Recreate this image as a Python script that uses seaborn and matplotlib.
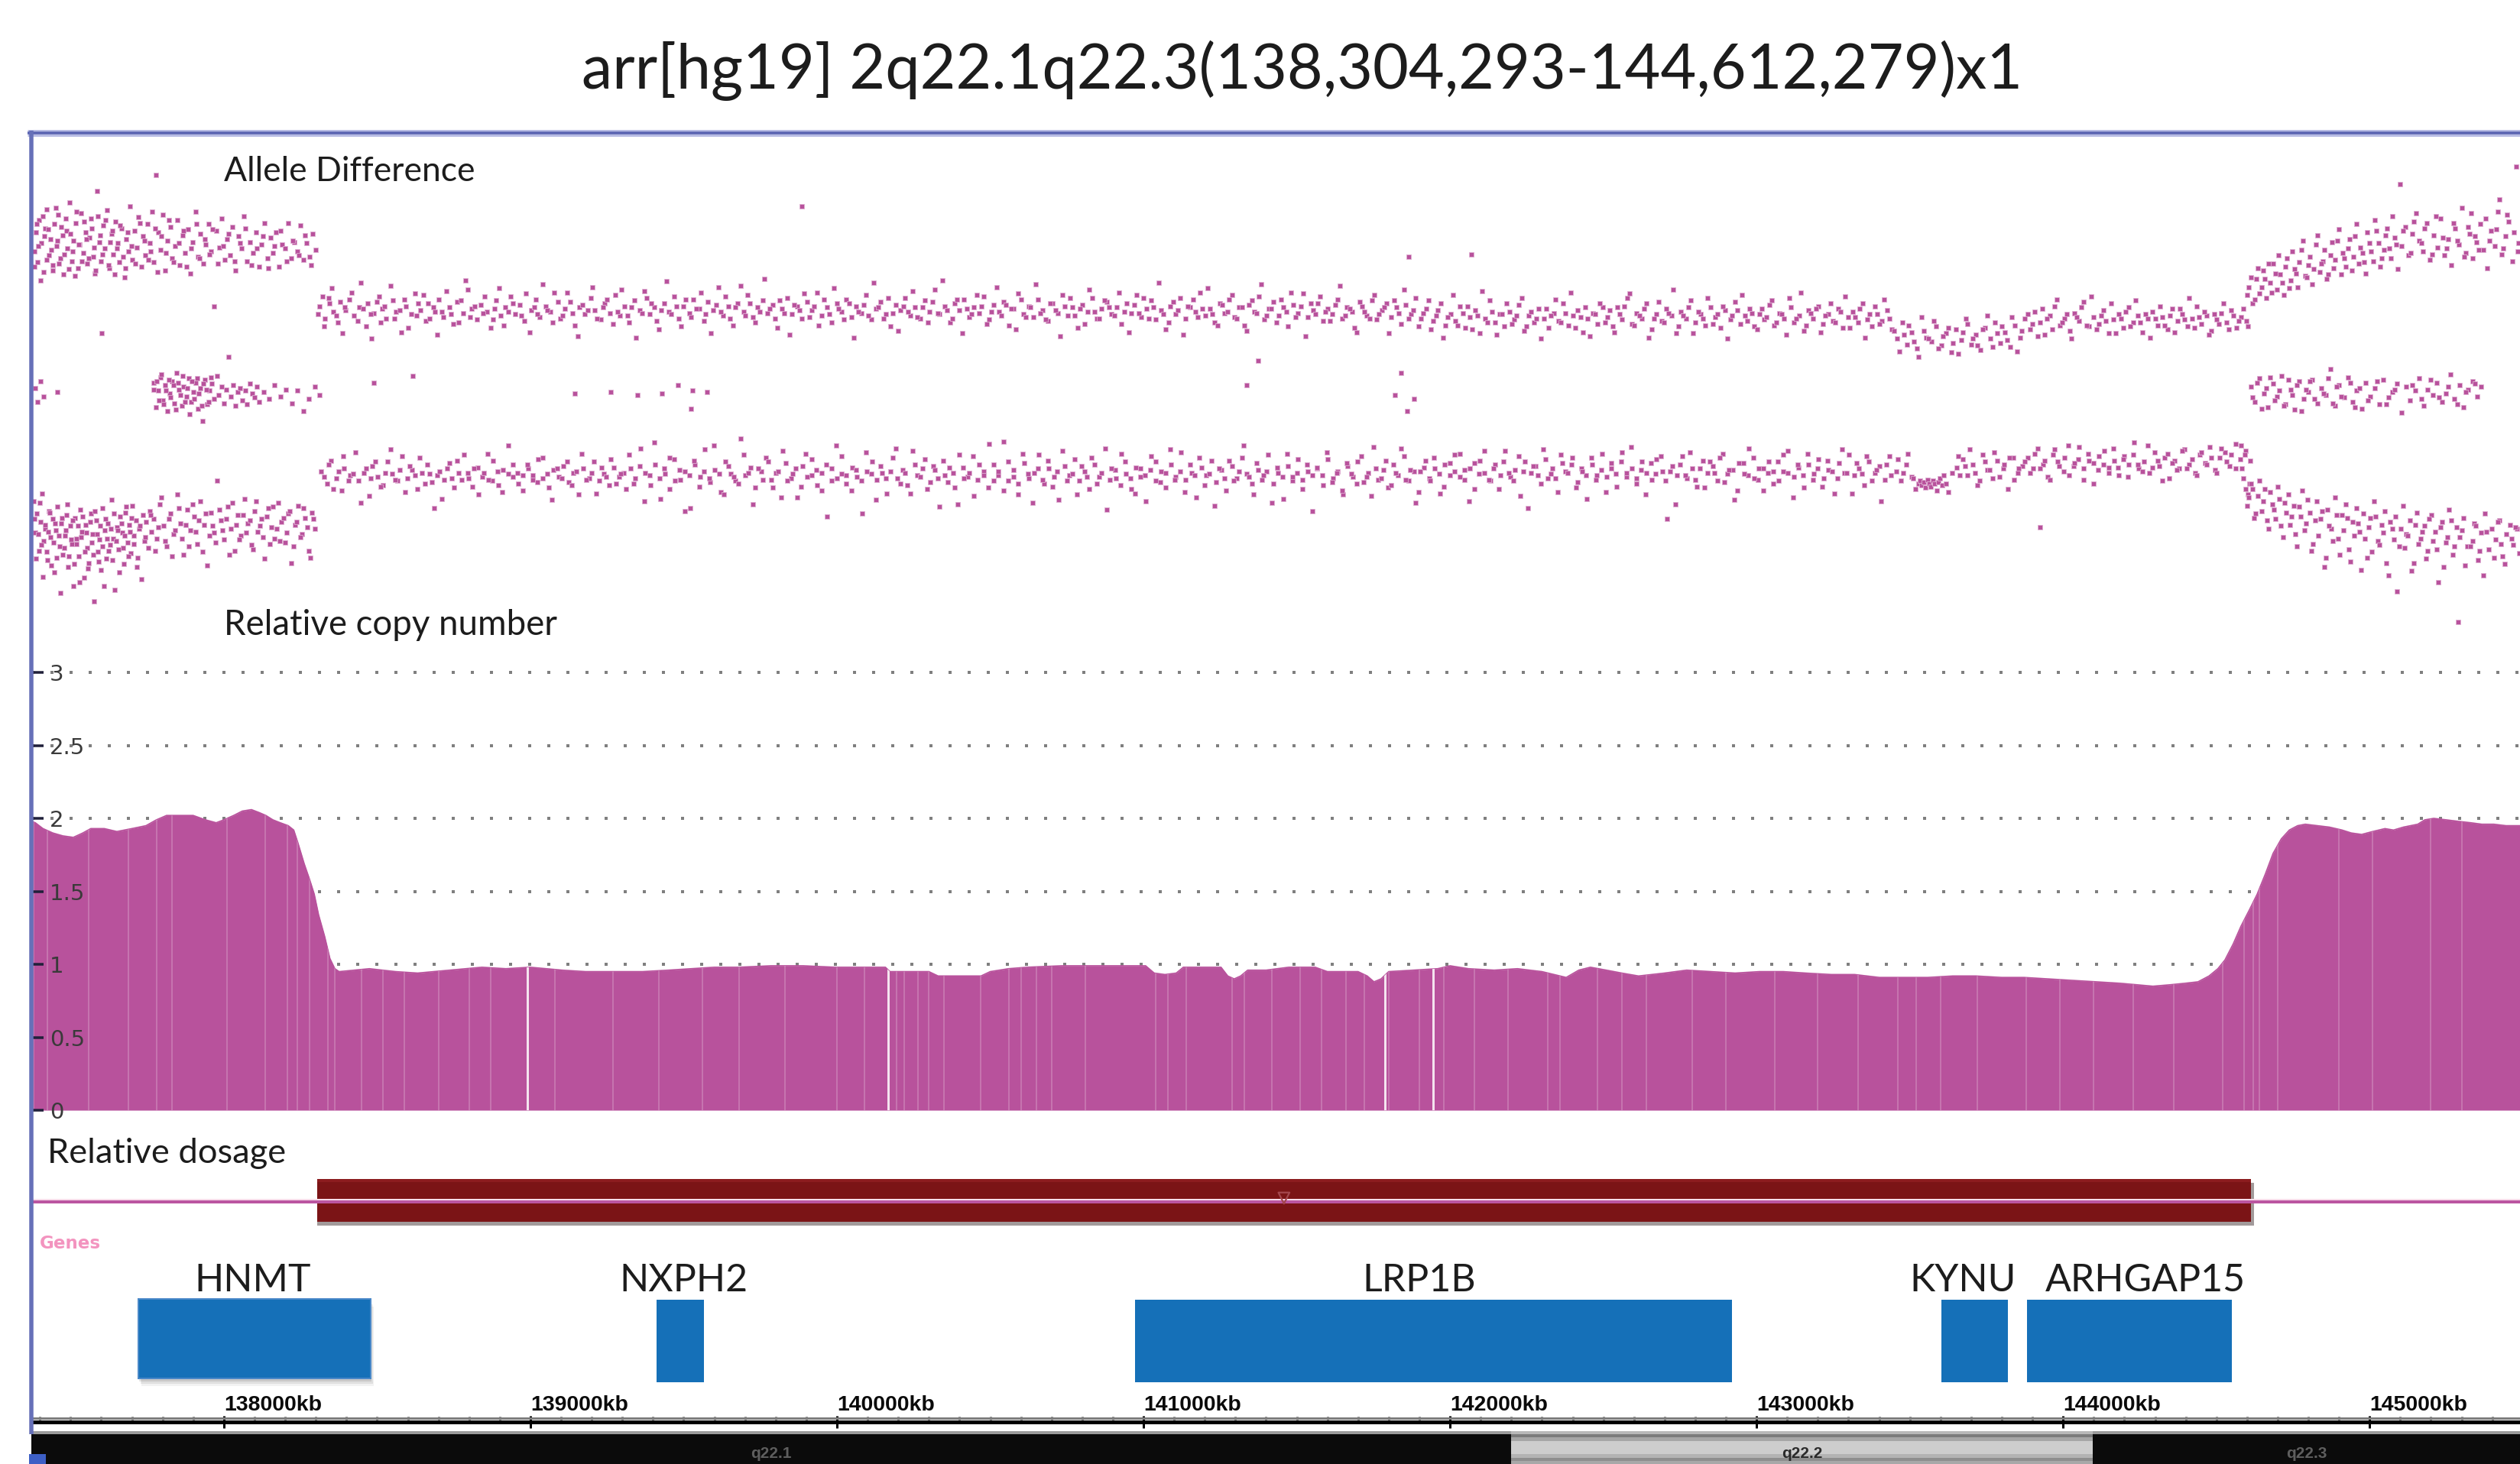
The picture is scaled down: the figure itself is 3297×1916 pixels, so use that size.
import matplotlib
matplotlib.use("Agg")
import numpy as np
import pandas as pd
import matplotlib.pyplot as plt
from matplotlib.patches import Rectangle
from matplotlib.ticker import MultipleLocator, FuncFormatter
import seaborn as sns

# ---------------------------------------------------------------- data
title = "arr[hg19] 2q22.1q22.3(138,304,293-144,612,279)x1"
view_kb = (137372, 145493)
loss_start_kb = 138304.293
loss_end_kb = 144612.279

# relative copy number profile (position kb, copy number)
cn_profile = [
    (137372, 1.98), (137385, 1.97), (137410, 1.93), (137442, 1.90), (137475, 1.88), (137509, 1.87),
    (137540, 1.90), (137566, 1.93), (137610, 1.93), (137651, 1.91), (137700, 1.93), (137746, 1.95),
    (137780, 1.99), (137813, 2.02), (137860, 2.02), (137900, 2.02), (137940, 1.99), (137975, 1.97),
    (138000, 1.99), (138032, 2.02), (138060, 2.05), (138090, 2.06), (138115, 2.04), (138137, 2.02),
    (138160, 1.99), (138184, 1.97), (138210, 1.95), (138228, 1.92), (138242, 1.83), (138262, 1.69),
    (138280, 1.58), (138295, 1.48), (138309, 1.34), (138329, 1.19), (138346, 1.04), (138362, 0.97),
    (138376, 0.95), (138475, 0.97), (138560, 0.95), (138632, 0.94), (138737, 0.96), (138842, 0.98),
    (138920, 0.97), (138999, 0.98), (139104, 0.96), (139180, 0.95), (139261, 0.95), (139366, 0.95),
    (139450, 0.96), (139523, 0.97), (139600, 0.98), (139680, 0.98), (139785, 0.99), (139890, 0.99),
    (139995, 0.98), (140100, 0.98), (140158, 0.98), (140173, 0.95), (140300, 0.95), (140330, 0.92),
    (140470, 0.92), (140500, 0.95), (140560, 0.97), (140620, 0.98), (140733, 0.99), (140835, 0.99),
    (140938, 0.99), (141007, 0.99), (141035, 0.94), (141070, 0.93), (141107, 0.94), (141130, 0.98),
    (141253, 0.98), (141275, 0.92), (141296, 0.90), (141317, 0.92), (141340, 0.96), (141400, 0.96),
    (141474, 0.98), (141560, 0.98), (141600, 0.95), (141700, 0.95), (141730, 0.92), (141752, 0.88),
    (141775, 0.90), (141800, 0.95), (141880, 0.96), (141960, 0.97), (142000, 0.99), (142060, 0.97),
    (142144, 0.96), (142220, 0.97), (142300, 0.95), (142379, 0.91), (142420, 0.96), (142458, 0.98),
    (142510, 0.96), (142560, 0.94), (142615, 0.92), (142700, 0.94), (142772, 0.96), (142850, 0.95),
    (142930, 0.94), (143010, 0.95), (143087, 0.95), (143160, 0.94), (143244, 0.93), (143320, 0.93),
    (143401, 0.91), (143480, 0.91), (143558, 0.91), (143640, 0.92), (143716, 0.92), (143800, 0.91),
    (143873, 0.91), (143950, 0.90), (144030, 0.89), (144110, 0.88), (144187, 0.87), (144240, 0.86),
    (144293, 0.85), (144350, 0.86), (144397, 0.87), (144440, 0.88), (144476, 0.92), (144505, 0.97),
    (144528, 1.03), (144555, 1.14), (144580, 1.26), (144607, 1.37), (144633, 1.48), (144660, 1.62),
    (144685, 1.76), (144712, 1.86), (144738, 1.92), (144765, 1.95), (144790, 1.96), (144830, 1.95),
    (144869, 1.94), (144910, 1.92), (144940, 1.90), (144974, 1.89), (145010, 1.91), (145050, 1.93),
    (145078, 1.92), (145110, 1.94), (145157, 1.96), (145180, 1.99), (145209, 2.00), (145250, 1.99),
    (145288, 1.98), (145330, 1.97), (145366, 1.96), (145405, 1.96), (145445, 1.95), (145493, 1.95),
]
cn_ticks = [0, 0.5, 1, 1.5, 2, 2.5, 3]
cn_tick_labels = ["0", "0.5", "1", "1.5", "2", "2.5", "3"]

# probe gaps visible as light stripes in the copy-number fill
gap_bright_kb = [138989, 140168, 141787, 141944]
gap_faint_kb = [137379, 137425, 137560, 137689, 137780, 137830, 138010, 138136, 138208, 138240,
                138280, 138340, 138362, 138450, 138520, 138590, 138700, 138800, 138870, 139080,
                139270, 139420, 139560, 139680, 139830, 140000, 140090, 140195, 140220, 140265,
                140300, 140350, 140470, 140560, 140600, 140650, 140700, 140810, 141040, 141080,
                141140, 141290, 141330, 141420, 141510, 141580, 141660, 141720, 141800, 141900,
                141980, 142080, 142190, 142320, 142360, 142480, 142560, 142640, 142790, 142900,
                143060, 143200, 143330, 143460, 143520, 143600, 143720, 143880, 143990, 144100,
                144230, 144360, 144520, 144591, 144620, 144640, 144700, 144900, 145010, 145200, 145300]

# allele difference SNP calls (position kb, allele difference)
left_top = [
    (137381, 1.04), (137386, 1.18), (137393, 0.96), (137398, 1.27), (137405, 1.10), (137412, 0.89), (137416, 1.21),
    (137423, 1.35), (137430, 1.01), (137434, 1.13), (137441, 0.94), (137448, 1.24), (137455, 1.08), (137459, 1.31),
    (137466, 0.99), (137473, 1.16), (137477, 0.87), (137486, 1.19), (137490, 1.06), (137497, 1.40), (137504, 0.97),
    (137509, 1.12), (137516, 1.25), (137523, 0.92), (137529, 1.09), (137533, 1.32), (137541, 1.03), (137548, 1.18),
    (137553, 0.95), (137561, 1.14), (137566, 1.28), (137573, 1.00), (137580, 0.88), (137586, 1.48), (137593, 1.11),
    (137600, 0.97), (137606, 1.23), (137612, 1.06), (137619, 1.34), (137627, 0.92), (137633, 1.17), (137640, 1.02),
    (137647, 1.26), (137654, 1.10), (137659, 0.96), (137667, 1.21), (137675, 0.85), (137681, 1.13), (137688, 1.04),
    (137694, 1.37), (137702, 0.98), (137709, 1.19), (137716, 1.07), (137722, 1.29), (137730, 0.93), (137737, 1.15),
    (137744, 1.01), (137750, 1.24), (137758, 1.10), (137766, 1.33), (137772, 0.96), (137778, 1.60), (137787, 1.18),
    (137794, 1.05), (137801, 1.31), (137809, 0.90), (137817, 1.12), (137825, 1.22), (137832, 0.99), (137840, 1.08),
    (137849, 1.27), (137856, 0.94), (137865, 1.16), (137873, 1.03), (137882, 1.20), (137890, 0.88), (137898, 1.11),
    (137907, 1.33), (137916, 1.00), (137924, 1.17), (137933, 0.95), (137941, 1.09), (137950, 1.24), (137959, 1.04),
    (137967, 0.64), (137976, 1.19), (137985, 1.07), (137994, 1.28), (138002, 0.98), (138011, 1.13), (138020, 1.01),
    (138029, 1.22), (138038, 0.90), (138047, 1.15), (138057, 1.06), (138066, 1.30), (138076, 0.97), (138085, 1.11),
    (138095, 1.03), (138104, 1.18), (138114, 0.93), (138123, 1.09), (138133, 1.25), (138142, 0.99), (138152, 1.14),
    (138161, 1.03), (138171, 1.18), (138181, 0.93), (138190, 1.09), (138200, 1.06), (138210, 1.25), (138220, 0.99),
    (138230, 1.11), (138240, 1.04), (138250, 1.23), (138260, 0.98), (138270, 1.10), (138280, 1.00), (138290, 1.17),
    (138299, 1.05),
    (137383, 0.93), (137389, 1.24), (137395, 1.08), (137403, 0.83), (137409, 1.30), (137414, 1.15), (137421, 0.98),
    (137427, 1.20), (137436, 1.05), (137443, 0.90), (137451, 1.36), (137457, 1.12), (137463, 0.95), (137470, 1.22),
    (137479, 1.02), (137484, 1.28), (137493, 0.91), (137500, 1.17), (137507, 1.04), (137514, 0.86), (137519, 1.33),
    (137527, 1.09), (137536, 0.97), (137544, 1.26), (137551, 1.13), (137558, 0.99), (137569, 1.21), (137576, 1.07),
    (137582, 0.90), (137590, 1.30), (137597, 1.16), (137603, 1.02), (137615, 1.27), (137624, 0.94), (137630, 1.11),
    (137637, 1.19), (137644, 0.87), (137651, 1.06), (137662, 1.23), (137671, 1.00), (137678, 0.92), (137685, 1.18),
    (137699, 1.08), (137712, 0.95), (137726, 1.25), (137740, 1.12), (137753, 0.98), (137762, 1.04), (137775, 1.21),
    (137783, 0.89), (137797, 1.15), (137812, 1.03), (137820, 1.27), (137836, 0.96), (137853, 1.10), (137869, 1.19),
    (137878, 0.93), (137894, 1.06), (137911, 1.24), (137920, 0.99), (137937, 1.13), (137954, 1.02), (137963, 1.20),
    (137980, 0.95), (137998, 1.08), (138016, 1.17), (138034, 0.97), (138052, 1.10), (138070, 1.21), (138089, 0.94),
    (138108, 1.06), (138127, 1.15), (138146, 0.92), (138165, 1.08), (138186, 1.19), (138205, 0.97), (138225, 1.12),
    (138245, 1.01), (138265, 1.16), (138285, 0.94),
]
left_mid = [
    (137385, 0.04), (137392, -0.06), (137401, 0.09), (137412, -0.02), (137458, 0.01), (137601, 0.44),
    (137770, 0.08), (137778, -0.10), (137785, 0.02), (137793, 0.12), (137800, -0.05), (137808, 0.06),
    (137816, -0.13), (137823, 0.00), (137831, 0.09), (137839, -0.07), (137846, 0.15), (137854, 0.03),
    (137862, -0.09), (137869, 0.05), (137877, -0.02), (137885, 0.11), (137892, -0.06), (137900, 0.01),
    (137908, 0.08), (137915, -0.11), (137923, 0.04), (137931, -0.20), (137938, 0.10), (137946, -0.08),
    (137954, 0.02), (137961, 0.07), (137969, -0.04), (137977, 0.13), (137984, -0.01), (137992, 0.05),
    (138000, -0.07), (138007, 0.03), (138015, 0.27), (138023, -0.02), (138030, 0.06), (138038, -0.09),
    (138046, 0.01), (138053, 0.04), (138061, -0.05), (138069, 0.02), (138076, -0.08), (138084, 0.07),
    (138092, 0.00), (138099, -0.03), (138107, 0.05), (138115, -0.06), (138130, 0.01), (138148, -0.04),
    (138166, 0.06), (138185, -0.02), (138203, 0.03), (138222, -0.07), (138240, 0.02), (138259, -0.13),
    (138277, -0.04), (138296, 0.05), (138312, -0.01),
    (137772, 0.03), (137781, 0.09), (137789, -0.05), (137797, 0.14), (137804, -0.08), (137812, 0.02),
    (137820, 0.10), (137827, -0.03), (137835, 0.06), (137843, -0.12), (137850, 0.08), (137858, -0.01),
    (137866, 0.13), (137873, -0.06), (137881, 0.04), (137888, -0.15), (137896, 0.09), (137904, -0.04),
    (137912, 0.11), (137919, 0.00), (137927, -0.09), (137934, 0.07), (137942, 0.03), (137950, -0.06),
    (137957, 0.12),
]
left_bottom = [
    (137380, -0.79), (137385, -1.02), (137390, -0.88), (137396, -1.15), (137401, -0.94), (137407, -0.73),
    (137413, -1.08), (137418, -0.99), (137424, -1.22), (137430, -0.86), (137435, -1.05), (137441, -0.92),
    (137447, -1.31), (137452, -1.00), (137458, -0.83), (137464, -1.12), (137469, -0.95), (137475, -1.18),
    (137481, -1.04), (137486, -0.89), (137492, -1.27), (137498, -0.97), (137503, -1.10), (137509, -1.41),
    (137515, -0.91), (137520, -1.06), (137526, -1.19), (137532, -0.85), (137537, -1.01), (137543, -1.35),
    (137549, -0.96), (137554, -1.13), (137560, -1.24), (137566, -0.88), (137571, -1.03), (137577, -1.52),
    (137583, -0.93), (137588, -1.16), (137594, -1.07), (137600, -1.29), (137605, -0.84), (137611, -1.00),
    (137617, -1.21), (137622, -0.95), (137628, -1.11), (137634, -0.78), (137639, -1.06), (137645, -1.44),
    (137651, -0.98), (137656, -1.14), (137662, -0.90), (137668, -1.02), (137673, -1.25), (137679, -0.87),
    (137685, -1.09), (137690, -0.96), (137696, -1.17), (137702, -0.82), (137707, -1.04), (137713, -0.93),
    (137719, -1.20), (137724, -0.99), (137730, -1.36), (137736, -0.89), (137741, -1.08), (137747, -0.94),
    (137753, -1.13), (137758, -0.86), (137764, -1.01), (137770, -0.92), (137781, -1.06), (137792, -0.81),
    (137803, -0.97), (137814, -1.12), (137825, -0.88), (137836, -1.03), (137847, -0.74), (137858, -0.95),
    (137869, -1.18), (137880, -0.85), (137891, -1.00), (137902, -0.90), (137913, -1.10), (137924, -0.79),
    (137935, -0.96), (137946, -1.26), (137957, -0.87), (137968, -1.02), (137979, -0.64), (137990, -0.93),
    (138001, -1.07), (138012, -0.83), (138023, -0.99), (138034, -1.15), (138045, -0.89), (138056, -1.04),
    (138067, -0.77), (138078, -0.95), (138089, -1.11), (138100, -0.86), (138111, -1.01), (138122, -0.92),
    (138133, -1.21), (138144, -0.84), (138155, -0.98), (138166, -1.06), (138177, -0.80), (138188, -0.94),
    (138199, -1.09), (138210, -0.88), (138221, -1.24), (138232, -0.96), (138243, -0.82), (138254, -1.03),
    (138265, -0.91), (138276, -1.15), (138287, -0.87), (138298, -0.99),
    (137383, -0.92), (137388, -1.21), (137394, -1.03), (137399, -0.80), (137405, -1.11), (137410, -1.34),
    (137416, -0.96), (137421, -1.16), (137427, -1.01), (137433, -0.87), (137438, -1.26), (137444, -1.09),
    (137450, -0.95), (137455, -1.20), (137461, -1.04), (137467, -1.46), (137472, -0.91), (137478, -1.13),
    (137484, -1.00), (137489, -0.81), (137495, -1.19), (137501, -1.07), (137506, -0.93), (137512, -1.25),
    (137518, -1.10), (137523, -0.97), (137529, -1.38), (137535, -1.05), (137540, -0.90), (137546, -1.16),
    (137552, -1.02), (137557, -1.28), (137563, -0.94), (137569, -1.09), (137574, -1.18), (137580, -0.86),
    (137586, -1.03), (137591, -1.23), (137597, -0.97), (137603, -1.12), (137608, -1.41), (137614, -0.92),
    (137620, -1.06), (137625, -1.15), (137631, -0.99), (137637, -1.22), (137642, -0.88), (137648, -1.08),
    (137654, -1.00), (137659, -1.31), (137665, -0.95), (137671, -1.13), (137676, -1.04), (137682, -0.83),
    (137688, -1.19), (137693, -1.01), (137699, -0.91), (137705, -1.10), (137716, -1.27), (137727, -0.97),
    (137744, -1.05), (137761, -0.89), (137775, -1.15), (137786, -0.98), (137797, -0.76), (137809, -1.08),
    (137820, -0.92), (137831, -1.19), (137842, -1.00), (137853, -0.84), (137864, -1.06), (137875, -0.96),
    (137886, -1.12), (137897, -0.81), (137908, -1.01), (137919, -0.93), (137930, -1.16), (137941, -0.88),
    (137952, -1.04), (137963, -0.97), (137974, -1.09), (137985, -0.85), (137996, -1.00), (138007, -0.92),
    (138018, -1.18), (138029, -0.80), (138040, -0.96), (138051, -1.07), (138062, -0.89), (138073, -1.02),
    (138084, -0.93), (138095, -1.14), (138106, -0.79), (138117, -0.97), (138128, -1.05), (138139, -0.90),
    (138150, -1.10), (138161, -0.83), (138172, -0.99), (138183, -1.08), (138194, -0.91), (138205, -1.02),
    (138216, -0.86), (138227, -1.12), (138238, -0.94), (138249, -1.05), (138260, -0.84), (138271, -0.98),
    (138282, -1.20), (138293, -0.92),
]
del_top = [
    (138312, 0.64), (138330, 0.55), (138341, 0.70), (138356, 0.60), (138372, 0.52), (138380, 0.67), (138398, 0.61),
    (138417, 0.74), (138425, 0.57), (138441, 0.63), (138463, 0.49), (138470, 0.66), (138488, 0.59), (138506, 0.71),
    (138517, 0.62), (138530, 0.55), (138552, 0.68), (138561, 0.60), (138579, 0.45), (138594, 0.64), (138610, 0.58),
    (138623, 0.73), (138640, 0.61), (138658, 0.53), (138667, 0.66), (138689, 0.60), (138701, 0.69), (138716, 0.56),
    (138735, 0.63), (138748, 0.51), (138760, 0.67), (138781, 0.59), (138795, 0.76), (138808, 0.62), (138826, 0.54),
    (138839, 0.65), (138857, 0.60), (138870, 0.48), (138888, 0.68), (138903, 0.57), (138917, 0.63), (138935, 0.71),
    (138950, 0.58), (138966, 0.65), (138981, 0.53), (139003, 0.61), (139017, 0.69), (139030, 0.56), (139049, 0.64),
    (139066, 0.60), (139078, 0.74), (139097, 0.55), (139113, 0.62), (139130, 0.67), (139144, 0.50), (139161, 0.63),
    (139178, 0.58), (139196, 0.70), (139210, 0.61), (139229, 0.54), (139243, 0.66), (139260, 0.59), (139277, 0.72),
    (139291, 0.57), (139308, 0.64), (139322, 0.52), (139340, 0.68), (139357, 0.61), (139371, 0.75), (139389, 0.58),
    (139405, 0.63), (139418, 0.47), (139436, 0.66), (139452, 0.60), (139470, 0.71), (139485, 0.55), (139499, 0.64),
    (139518, 0.59), (139531, 0.69), (139550, 0.62), (139566, 0.53), (139579, 0.67), (139597, 0.61), (139614, 0.78),
    (139628, 0.57), (139646, 0.64), (139660, 0.50), (139677, 0.66), (139695, 0.60), (139709, 0.72), (139726, 0.56),
    (139741, 0.63), (139758, 0.68), (139772, 0.59), (139790, 0.65), (139806, 0.48), (139821, 0.62), (139838, 0.70),
    (139853, 0.58), (139871, 0.64), (139886, 0.55), (139903, 0.67), (139919, 0.61), (139934, 0.74), (139951, 0.57),
    (139967, 0.63), (139982, 0.52), (140000, 0.66), (140015, 0.60), (140031, 0.69), (140048, 0.56), (140063, 0.64),
    (140080, 0.59), (140094, 0.72), (140112, 0.54), (140127, 0.62), (140143, 0.67), (140160, 0.58), (140175, 0.49),
    (140191, 0.65), (140208, 0.61), (140222, 0.70), (140240, 0.57), (140255, 0.63), (140271, 0.55), (140288, 0.68),
    (140302, 0.60), (140319, 0.76), (140334, 0.58), (140351, 0.64), (140368, 0.52), (140383, 0.66), (140399, 0.61),
    (140415, 0.69), (140432, 0.56), (140447, 0.63), (140463, 0.59), (140480, 0.71), (140496, 0.54), (140511, 0.65),
    (140528, 0.60), (140544, 0.67), (140560, 0.50), (140577, 0.62), (140592, 0.73), (140608, 0.58), (140625, 0.64),
    (140640, 0.56), (140657, 0.69), (140672, 0.61), (140689, 0.53), (140704, 0.66), (140721, 0.59), (140736, 0.72),
    (140753, 0.57), (140768, 0.63), (140785, 0.48), (140800, 0.65), (140817, 0.60), (140832, 0.70), (140849, 0.55),
    (140864, 0.62), (140881, 0.67), (140896, 0.58), (140913, 0.63), (140928, 0.51), (140945, 0.66), (140960, 0.59),
    (140977, 0.72), (140992, 0.56), (141009, 0.62), (141024, 0.68), (141041, 0.54), (141056, 0.61), (141073, 0.47),
    (141088, 0.64), (141105, 0.58), (141120, 0.70), (141137, 0.55), (141152, 0.63), (141169, 0.60), (141184, 0.74),
    (141201, 0.57), (141216, 0.62), (141233, 0.52), (141248, 0.66), (141265, 0.59), (141280, 0.69), (141297, 0.56),
    (141312, 0.63), (141329, 0.50), (141344, 0.65), (141361, 0.60), (141376, 0.71), (141393, 0.54), (141408, 0.62),
    (141425, 0.67), (141440, 0.57), (141457, 0.63), (141472, 0.49), (141489, 0.65), (141504, 0.59), (141521, 0.73),
    (141536, 0.56), (141553, 0.61), (141568, 0.66), (141585, 0.53), (141600, 0.62), (141617, 0.58), (141632, 0.69),
    (141649, 0.55), (141664, 0.63), (141681, 0.60), (141696, 0.45), (141713, 0.64), (141728, 0.57), (141745, 0.68),
    (141760, 0.54), (141777, 0.61), (141792, 0.66), (141809, 0.56), (141824, 0.63), (141841, 0.51), (141856, 0.65),
    (141873, 0.58), (141888, 0.70), (141905, 0.55), (141922, 0.62), (141937, 0.47), (141954, 0.57), (141969, 0.66),
    (141986, 0.50), (142001, 0.58), (142018, 0.53), (142033, 0.64), (142050, 0.48), (142065, 0.56), (142082, 0.61),
    (142097, 0.44), (142114, 0.55), (142129, 0.68), (142146, 0.52), (142161, 0.58), (142178, 0.49), (142193, 0.60),
    (142210, 0.54), (142225, 0.65), (142242, 0.46), (142257, 0.57), (142274, 0.52), (142289, 0.62), (142306, 0.55),
    (142321, 0.48), (142338, 0.59), (142353, 0.53), (142370, 0.66), (142385, 0.50), (142402, 0.57), (142417, 0.61),
    (142434, 0.45), (142449, 0.55), (142466, 0.59), (142481, 0.51), (142498, 0.63), (142513, 0.56), (142530, 0.49),
    (142545, 0.63), (142562, 0.54), (142577, 0.70), (142594, 0.51), (142609, 0.59), (142626, 0.55), (142641, 0.66),
    (142658, 0.47), (142673, 0.58), (142690, 0.53), (142705, 0.62), (142722, 0.57), (142737, 0.44), (142754, 0.60),
    (142769, 0.55), (142786, 0.68), (142801, 0.52), (142818, 0.58), (142833, 0.50), (142850, 0.63), (142865, 0.56),
    (142882, 0.48), (142897, 0.61), (142914, 0.54), (142929, 0.67), (142946, 0.51), (142961, 0.57), (142978, 0.62),
    (142993, 0.49), (143010, 0.58), (143025, 0.54), (143042, 0.65), (143057, 0.50), (143074, 0.59), (143089, 0.55),
    (143106, 0.70), (143121, 0.52), (143138, 0.57), (143153, 0.46), (143170, 0.61), (143185, 0.55), (143202, 0.64),
    (143217, 0.51), (143234, 0.58), (143249, 0.53), (143266, 0.62), (143281, 0.48), (143298, 0.56), (143313, 0.60),
    (143330, 0.52), (143345, 0.66), (143362, 0.54), (143377, 0.49), (143394, 0.58), (143409, 0.53), (143426, 0.61),
    (143441, 0.47), (143458, 0.40), (143475, 0.52), (143490, 0.36), (143507, 0.45), (143522, 0.33), (143539, 0.56),
    (143554, 0.41), (143571, 0.38), (143586, 0.49), (143603, 0.35), (143618, 0.44), (143635, 0.30), (143650, 0.47),
    (143667, 0.39), (143682, 0.55), (143699, 0.36), (143714, 0.43), (143731, 0.32), (143746, 0.48), (143763, 0.40),
    (143778, 0.52), (143795, 0.37), (143810, 0.45), (143827, 0.34), (143842, 0.50), (143859, 0.41), (143876, 0.55),
    (143893, 0.47), (143908, 0.60), (143925, 0.52), (143940, 0.43), (143957, 0.57), (143972, 0.64), (143989, 0.50),
    (144004, 0.55), (144021, 0.46), (144036, 0.59), (144053, 0.53), (144068, 0.67), (144085, 0.49), (144100, 0.56),
    (144117, 0.51), (144132, 0.61), (144149, 0.44), (144164, 0.54), (144181, 0.58), (144196, 0.48), (144213, 0.63),
    (144228, 0.52), (144245, 0.57), (144260, 0.45), (144277, 0.55), (144292, 0.60), (144309, 0.50), (144324, 0.56),
    (144341, 0.47), (144356, 0.62), (144373, 0.53), (144388, 0.58), (144405, 0.49), (144420, 0.55), (144437, 0.64),
    (144452, 0.51), (144469, 0.57), (144484, 0.46), (144501, 0.54), (144516, 0.59), (144533, 0.52), (144548, 0.61),
    (144565, 0.48), (144580, 0.56), (144597, 0.53),
    (138308, 0.58), (138321, 0.71), (138327, 0.49), (138345, 0.66), (138352, 0.77), (138368, 0.57), (138387, 0.44),
    (138394, 0.63), (138409, 0.69), (138436, 0.53), (138447, 0.81), (138455, 0.62), (138478, 0.58), (138481, 0.40),
    (138499, 0.67), (138512, 0.52), (138524, 0.64), (138545, 0.79), (138556, 0.55), (138573, 0.61), (138588, 0.69),
    (138601, 0.48), (138629, 0.57), (138634, 0.66), (138652, 0.72), (138671, 0.55), (138683, 0.63), (138695, 0.43),
    (138711, 0.60), (138727, 0.75), (138742, 0.58), (138766, 0.52), (138773, 0.68), (138789, 0.83), (138803, 0.56),
    (138819, 0.64), (138845, 0.59), (138851, 0.71), (138879, 0.54), (138882, 0.62), (138898, 0.77), (138912, 0.50),
    (138929, 0.60), (138944, 0.66), (138971, 0.57), (138986, 0.73), (138997, 0.45), (139012, 0.63), (139023, 0.58),
    (139041, 0.80), (139055, 0.61), (139072, 0.52), (139089, 0.67), (139106, 0.57), (139119, 0.74), (139137, 0.59),
    (139155, 0.42), (139170, 0.65), (139186, 0.61), (139203, 0.78), (139216, 0.55), (139236, 0.63), (139249, 0.69),
    (139269, 0.51), (139284, 0.60), (139298, 0.76), (139316, 0.57), (139330, 0.63), (139345, 0.41), (139363, 0.59),
    (139379, 0.70), (139394, 0.66), (139411, 0.53), (139426, 0.61), (139443, 0.82), (139459, 0.58), (139476, 0.64),
    (139492, 0.49), (139507, 0.69), (139523, 0.56), (139541, 0.62), (139556, 0.74), (139572, 0.58), (139588, 0.44),
    (139605, 0.65), (139620, 0.60), (139637, 0.71), (139652, 0.55), (139669, 0.63), (139685, 0.79), (139700, 0.57),
    (139717, 0.66), (139733, 0.52), (139749, 0.60), (139764, 0.84), (139781, 0.62), (139797, 0.55), (139813, 0.68),
    (139829, 0.59), (139846, 0.43), (139861, 0.65), (139878, 0.61), (139894, 0.73), (139910, 0.56), (139926, 0.64),
    (139941, 0.50), (139958, 0.69), (139974, 0.58), (139990, 0.77), (140006, 0.62), (140022, 0.54), (140039, 0.66),
    (140055, 0.41), (140071, 0.60), (140087, 0.65), (140103, 0.57), (140119, 0.81), (140134, 0.63), (140151, 0.55),
    (140167, 0.70), (140183, 0.59), (140199, 0.46), (140216, 0.64), (140232, 0.60), (140248, 0.75), (140263, 0.56),
    (140280, 0.63), (140296, 0.52), (140312, 0.67), (140328, 0.59), (140344, 0.83), (140360, 0.61), (140376, 0.55),
    (140392, 0.69), (140408, 0.44), (140424, 0.62), (140440, 0.58), (140456, 0.72), (140472, 0.64), (140488, 0.51),
    (140504, 0.60), (140520, 0.78), (140536, 0.57), (140552, 0.65), (140568, 0.62), (140584, 0.47), (140600, 0.69),
    (140616, 0.56), (140632, 0.63), (140648, 0.80), (140664, 0.59), (140680, 0.54), (140696, 0.66), (140712, 0.61),
    (140728, 0.42), (140744, 0.64), (140760, 0.70), (140776, 0.57), (140792, 0.62), (140808, 0.51), (140824, 0.76),
    (140840, 0.60), (140856, 0.55), (140872, 0.68), (140888, 0.63), (140905, 0.57), (140921, 0.74), (140937, 0.60),
    (140953, 0.45), (140969, 0.65), (140985, 0.59), (141001, 0.70), (141017, 0.55), (141033, 0.63), (141049, 0.81),
    (141065, 0.58), (141081, 0.52), (141097, 0.67), (141113, 0.61), (141129, 0.43), (141145, 0.64), (141161, 0.69),
    (141177, 0.56), (141193, 0.62), (141209, 0.77), (141225, 0.58), (141241, 0.50), (141257, 0.65), (141273, 0.60),
    (141289, 0.72), (141305, 0.55), (141321, 0.63), (141337, 0.46), (141353, 0.68), (141369, 0.59), (141385, 0.80),
    (141401, 0.57), (141417, 0.62), (141433, 0.52), (141449, 0.69), (141465, 0.60), (141481, 0.74), (141497, 0.56),
    (141513, 0.64), (141529, 0.42), (141545, 0.66), (141561, 0.58), (141577, 0.71), (141593, 0.60), (141609, 0.53),
    (141625, 0.65), (141641, 0.79), (141657, 0.57), (141673, 0.62), (141689, 0.48), (141705, 0.67), (141721, 0.60),
    (141737, 0.55), (141753, 0.72), (141769, 0.58), (141785, 0.63), (141801, 0.44), (141817, 0.68), (141833, 0.59),
    (141849, 0.76), (141865, 0.55), (141881, 0.61), (141897, 0.49), (141913, 0.59), (141929, 0.68), (141945, 0.53),
    (141961, 0.61), (141977, 0.41), (141993, 0.56), (142009, 0.72), (142025, 0.50), (142041, 0.59), (142057, 0.64),
    (142073, 0.47), (142089, 0.57), (142105, 0.75), (142121, 0.52), (142137, 0.60), (142153, 0.43), (142169, 0.58),
    (142185, 0.66), (142201, 0.51), (142217, 0.57), (142233, 0.70), (142249, 0.49), (142265, 0.60), (142281, 0.55),
    (142297, 0.40), (142313, 0.62), (142329, 0.57), (142345, 0.69), (142361, 0.52), (142377, 0.59), (142393, 0.74),
    (142409, 0.48), (142425, 0.56), (142441, 0.63), (142457, 0.42), (142473, 0.58), (142489, 0.66), (142505, 0.52),
    (142521, 0.61), (142537, 0.45), (142553, 0.58), (142569, 0.64), (142585, 0.73), (142601, 0.50), (142617, 0.57),
    (142633, 0.62), (142649, 0.41), (142665, 0.55), (142681, 0.67), (142697, 0.52), (142713, 0.59), (142729, 0.76),
    (142745, 0.49), (142761, 0.57), (142777, 0.63), (142793, 0.44), (142809, 0.60), (142825, 0.55), (142841, 0.70),
    (142857, 0.51), (142873, 0.58), (142889, 0.64), (142905, 0.40), (142921, 0.57), (142937, 0.61), (142953, 0.72),
    (142969, 0.53), (142985, 0.59), (143001, 0.47), (143017, 0.62), (143033, 0.56), (143049, 0.68), (143065, 0.52),
    (143081, 0.58), (143097, 0.43), (143113, 0.63), (143129, 0.55), (143145, 0.74), (143161, 0.50), (143177, 0.59),
    (143193, 0.62), (143209, 0.45), (143225, 0.57), (143241, 0.66), (143257, 0.52), (143273, 0.60), (143289, 0.71),
    (143305, 0.48), (143321, 0.56), (143337, 0.62), (143353, 0.41), (143369, 0.58), (143385, 0.64), (143401, 0.51),
    (143417, 0.69), (143433, 0.55), (143449, 0.46), (143465, 0.31), (143481, 0.43), (143497, 0.50), (143513, 0.38),
    (143529, 0.27), (143545, 0.46), (143561, 0.40), (143577, 0.53), (143593, 0.33), (143609, 0.42), (143625, 0.48),
    (143641, 0.37), (143657, 0.29), (143673, 0.45), (143689, 0.51), (143705, 0.40), (143721, 0.35), (143737, 0.47),
    (143753, 0.57), (143769, 0.34), (143785, 0.44), (143801, 0.49), (143817, 0.39), (143833, 0.56), (143849, 0.31),
    (143865, 0.46), (143884, 0.58), (143900, 0.51), (143916, 0.42), (143932, 0.62), (143948, 0.55), (143964, 0.47),
    (143980, 0.69), (143996, 0.52), (144012, 0.58), (144028, 0.40), (144044, 0.56), (144060, 0.63), (144076, 0.50),
    (144092, 0.71), (144108, 0.47), (144124, 0.57), (144140, 0.53), (144156, 0.66), (144172, 0.44), (144188, 0.55),
    (144204, 0.60), (144220, 0.49), (144236, 0.68), (144252, 0.52), (144268, 0.58), (144284, 0.41), (144300, 0.55),
    (144316, 0.64), (144332, 0.50), (144348, 0.57), (144364, 0.45), (144380, 0.62), (144396, 0.54), (144412, 0.70),
    (144428, 0.48), (144444, 0.56), (144460, 0.60), (144476, 0.43), (144492, 0.58), (144508, 0.51), (144524, 0.66),
    (144540, 0.47), (144556, 0.57), (144572, 0.53), (144588, 0.62), (144604, 0.49),
]
del_bottom = [
    (138318, -0.57), (138336, -0.66), (138349, -0.49), (138366, -0.62), (138384, -0.71), (138393, -0.55),
    (138411, -0.60), (138429, -0.43), (138438, -0.64), (138456, -0.58), (138474, -0.75), (138485, -0.53),
    (138502, -0.61), (138520, -0.67), (138533, -0.50), (138548, -0.59), (138566, -0.64), (138581, -0.46),
    (138598, -0.62), (138614, -0.56), (138631, -0.70), (138646, -0.58), (138664, -0.52), (138679, -0.65),
    (138697, -0.60), (138712, -0.77), (138729, -0.55), (138744, -0.62), (138762, -0.49), (138777, -0.63),
    (138795, -0.58), (138810, -0.68), (138828, -0.54), (138843, -0.61), (138861, -0.44), (138876, -0.64),
    (138894, -0.57), (138909, -0.72), (138927, -0.59), (138942, -0.52), (138960, -0.66), (138975, -0.60),
    (138993, -0.55), (139008, -0.63), (139026, -0.48), (139041, -0.62), (139059, -0.69), (139074, -0.56),
    (139092, -0.61), (139107, -0.53), (139125, -0.65), (139140, -0.58), (139158, -0.74), (139173, -0.55),
    (139191, -0.62), (139206, -0.50), (139224, -0.64), (139239, -0.59), (139257, -0.67), (139272, -0.54),
    (139290, -0.61), (139305, -0.58), (139323, -0.45), (139338, -0.66), (139356, -0.53), (139371, -0.79),
    (139389, -0.60), (139404, -0.36), (139422, -0.62), (139437, -0.55), (139455, -0.70), (139470, -0.48),
    (139488, -0.63), (139503, -0.57), (139521, -0.84), (139536, -0.52), (139554, -0.61), (139569, -0.41),
    (139587, -0.65), (139602, -0.56), (139620, -0.72), (139635, -0.50), (139653, -0.59), (139668, -0.64),
    (139686, -0.33), (139701, -0.60), (139719, -0.54), (139734, -0.69), (139752, -0.57), (139767, -0.47),
    (139785, -0.63), (139800, -0.58), (139818, -0.76), (139833, -0.51), (139851, -0.62), (139866, -0.55),
    (139884, -0.68), (139899, -0.44), (139917, -0.60), (139932, -0.56), (139950, -0.71), (139965, -0.52),
    (139983, -0.64), (139998, -0.38), (140016, -0.59), (140031, -0.66), (140049, -0.54), (140064, -0.61),
    (140082, -0.88), (140097, -0.57), (140115, -0.50), (140130, -0.63), (140148, -0.58), (140163, -0.73),
    (140181, -0.47), (140196, -0.62), (140214, -0.56), (140229, -0.67), (140247, -0.42), (140262, -0.60),
    (140280, -0.55), (140295, -0.70), (140313, -0.53), (140328, -0.62), (140346, -0.49), (140361, -0.65),
    (140379, -0.58), (140394, -0.81), (140412, -0.54), (140427, -0.61), (140445, -0.46), (140460, -0.63),
    (140478, -0.57), (140493, -0.69), (140511, -0.52), (140526, -0.60), (140544, -0.35), (140559, -0.64),
    (140577, -0.56), (140592, -0.74), (140610, -0.51), (140625, -0.62), (140643, -0.58), (140658, -0.45),
    (140676, -0.66), (140691, -0.55), (140709, -0.61), (140724, -0.78), (140742, -0.53), (140757, -0.60),
    (140775, -0.48), (140790, -0.64), (140808, -0.57), (140823, -0.70), (140841, -0.52), (140856, -0.61),
    (140874, -0.40), (140889, -0.63), (140907, -0.56), (140925, -0.67), (140940, -0.50), (140958, -0.62),
    (140973, -0.73), (140991, -0.55), (141006, -0.60), (141024, -0.46), (141039, -0.64), (141057, -0.57),
    (141072, -0.69), (141090, -0.52), (141105, -0.61), (141123, -0.43), (141138, -0.63), (141156, -0.58),
    (141171, -0.76), (141189, -0.54), (141204, -0.60), (141222, -0.49), (141237, -0.65), (141255, -0.56),
    (141270, -0.71), (141288, -0.53), (141303, -0.62), (141321, -0.47), (141336, -0.59), (141354, -0.66),
    (141369, -0.51), (141387, -0.63), (141402, -0.57), (141420, -0.80), (141435, -0.54), (141453, -0.61),
    (141468, -0.44), (141486, -0.64), (141501, -0.58), (141519, -0.70), (141534, -0.52), (141552, -0.60),
    (141567, -0.55), (141585, -0.67), (141600, -0.48), (141618, -0.62), (141633, -0.57), (141651, -0.74),
    (141666, -0.53), (141684, -0.61), (141699, -0.50), (141717, -0.65), (141732, -0.58), (141750, -0.39),
    (141765, -0.63), (141783, -0.56), (141798, -0.69), (141816, -0.52), (141831, -0.60), (141849, -0.46),
    (141864, -0.64), (141882, -0.57), (141897, -0.72), (141915, -0.54), (141933, -0.62), (141948, -0.47),
    (141966, -0.59), (141981, -0.68), (141999, -0.51), (142014, -0.57), (142032, -0.44), (142047, -0.63),
    (142065, -0.55), (142080, -0.70), (142098, -0.49), (142113, -0.58), (142131, -0.64), (142146, -0.52),
    (142164, -0.60), (142179, -0.42), (142197, -0.61), (142212, -0.56), (142230, -0.75), (142245, -0.50),
    (142263, -0.58), (142278, -0.53), (142296, -0.66), (142311, -0.48), (142329, -0.59), (142344, -0.62),
    (142362, -0.45), (142377, -0.57), (142395, -0.52), (142410, -0.69), (142428, -0.55), (142443, -0.60),
    (142461, -0.47), (142476, -0.63), (142494, -0.56), (142509, -0.72), (142527, -0.51), (142542, -0.59),
    (142560, -0.43), (142575, -0.61), (142593, -0.55), (142608, -0.66), (142626, -0.50), (142641, -0.58),
    (142659, -0.63), (142674, -0.48), (142692, -0.57), (142707, -0.92), (142725, -0.53), (142740, -0.60),
    (142758, -0.46), (142773, -0.62), (142791, -0.55), (142806, -0.68), (142824, -0.49), (142839, -0.58),
    (142857, -0.53), (142872, -0.64), (142890, -0.44), (142905, -0.59), (142923, -0.56), (142938, -0.71),
    (142956, -0.51), (142971, -0.60), (142989, -0.47), (143004, -0.63), (143022, -0.55), (143037, -0.58),
    (143055, -0.66), (143070, -0.50), (143088, -0.57), (143103, -0.42), (143121, -0.61), (143136, -0.54),
    (143154, -0.69), (143169, -0.52), (143187, -0.59), (143202, -0.48), (143220, -0.62), (143235, -0.56),
    (143253, -0.73), (143268, -0.51), (143286, -0.58), (143301, -0.45), (143319, -0.60), (143334, -0.55),
    (143352, -0.67), (143367, -0.50), (143385, -0.58), (143400, -0.53), (143418, -0.63), (143433, -0.46),
    (143455, -0.57), (143472, -0.64), (143488, -0.52), (143505, -0.61), (143519, -0.70), (143527, -0.66),
    (143533, -0.64), (143539, -0.67), (143545, -0.65), (143551, -0.69), (143557, -0.63), (143563, -0.66),
    (143569, -0.68), (143575, -0.64), (143581, -0.66), (143587, -0.71), (143593, -0.65), (143599, -0.62),
    (143605, -0.67), (143611, -0.60), (143618, -0.66), (143626, -0.72), (143639, -0.58), (143654, -0.54),
    (143672, -0.48), (143687, -0.60), (143705, -0.52), (143720, -0.67), (143738, -0.45), (143753, -0.56),
    (143771, -0.62), (143786, -0.49), (143804, -0.55), (143819, -0.70), (143837, -0.47), (143852, -0.58),
    (143867, -0.53), (143885, -0.47), (143902, -0.55), (143917, -0.40), (143935, -0.52), (143950, -0.61),
    (143968, -0.45), (143983, -0.50), (144001, -0.57), (144016, -0.38), (144034, -0.53), (144049, -0.48),
    (144067, -0.63), (144082, -0.44), (144100, -0.51), (144115, -0.56), (144133, -0.42), (144148, -0.54),
    (144166, -0.49), (144181, -0.60), (144199, -0.46), (144214, -0.52), (144232, -0.36), (144247, -0.55),
    (144265, -0.50), (144280, -0.58), (144298, -0.43), (144313, -0.53), (144331, -0.47), (144346, -0.62),
    (144364, -0.49), (144379, -0.55), (144397, -0.41), (144412, -0.52), (144430, -0.58), (144445, -0.45),
    (144463, -0.51), (144478, -0.39), (144496, -0.56), (144511, -0.47), (144529, -0.43), (144544, -0.53),
    (144562, -0.37), (144577, -0.48), (144595, -0.42), (144603, -0.74), (144608, -0.66),
    (138326, -0.61), (138342, -0.52), (138358, -0.70), (138374, -0.57), (138390, -0.46), (138406, -0.64),
    (138422, -0.59), (138446, -0.80), (138463, -0.55), (138479, -0.62), (138495, -0.50), (138511, -0.68),
    (138527, -0.58), (138543, -0.41), (138559, -0.63), (138575, -0.56), (138591, -0.72), (138607, -0.53),
    (138623, -0.60), (138639, -0.47), (138655, -0.66), (138671, -0.59), (138687, -0.84), (138703, -0.57),
    (138719, -0.63), (138735, -0.51), (138751, -0.69), (138767, -0.58), (138783, -0.45), (138799, -0.62),
    (138815, -0.55), (138831, -0.74), (138847, -0.58), (138863, -0.63), (138879, -0.49), (138895, -0.67),
    (138911, -0.56), (138927, -0.38), (138943, -0.61), (138959, -0.58), (138975, -0.71), (138991, -0.52),
    (139007, -0.60), (139023, -0.65), (139039, -0.47), (139055, -0.59), (139071, -0.78), (139087, -0.55),
    (139103, -0.62), (139119, -0.50), (139135, -0.67), (139151, -0.57), (139167, -0.44), (139183, -0.63),
    (139199, -0.58), (139215, -0.73), (139231, -0.54), (139247, -0.61), (139263, -0.48), (139279, -0.66),
    (139295, -0.59), (139311, -0.70), (139327, -0.55), (139343, -0.62), (139359, -0.40), (139375, -0.58),
    (139391, -0.67), (139407, -0.52), (139423, -0.77), (139439, -0.59), (139455, -0.47), (139471, -0.64),
    (139487, -0.56), (139503, -0.86), (139519, -0.60), (139535, -0.49), (139551, -0.68), (139567, -0.57),
    (139583, -0.62), (139599, -0.38), (139615, -0.59), (139631, -0.74), (139647, -0.53), (139663, -0.61),
    (139679, -0.66), (139695, -0.45), (139711, -0.58), (139727, -0.81), (139743, -0.55), (139759, -0.63),
    (139775, -0.50), (139791, -0.69), (139807, -0.57), (139823, -0.42), (139839, -0.64), (139855, -0.59),
    (139871, -0.76), (139887, -0.53), (139903, -0.61), (139919, -0.48), (139935, -0.67), (139951, -0.58),
    (139967, -0.90), (139983, -0.55), (139999, -0.62), (140015, -0.46), (140031, -0.60), (140047, -0.71),
    (140063, -0.56), (140079, -0.64), (140095, -0.43), (140111, -0.59), (140127, -0.78), (140143, -0.53),
    (140159, -0.62), (140175, -0.57), (140191, -0.40), (140207, -0.66), (140223, -0.58), (140239, -0.73),
    (140255, -0.52), (140271, -0.61), (140287, -0.48), (140303, -0.65), (140319, -0.56), (140335, -0.83),
    (140351, -0.60), (140367, -0.54), (140383, -0.69), (140399, -0.45), (140415, -0.62), (140431, -0.58),
    (140447, -0.75), (140463, -0.52), (140479, -0.60), (140495, -0.37), (140511, -0.64), (140527, -0.57),
    (140543, -0.71), (140559, -0.50), (140575, -0.61), (140591, -0.66), (140607, -0.44), (140623, -0.59),
    (140639, -0.80), (140655, -0.55), (140671, -0.63), (140687, -0.49), (140703, -0.68), (140719, -0.57),
    (140735, -0.42), (140751, -0.64), (140767, -0.59), (140783, -0.74), (140799, -0.53), (140815, -0.61),
    (140831, -0.47), (140847, -0.66), (140863, -0.58), (140879, -0.85), (140895, -0.55), (140911, -0.62),
    (140927, -0.44), (140943, -0.59), (140959, -0.70), (140975, -0.54), (140991, -0.61), (141007, -0.79),
    (141023, -0.56), (141039, -0.50), (141055, -0.65), (141071, -0.58), (141087, -0.41), (141103, -0.63),
    (141119, -0.57), (141135, -0.72), (141151, -0.52), (141167, -0.60), (141183, -0.47), (141199, -0.67),
    (141215, -0.59), (141231, -0.82), (141247, -0.55), (141263, -0.62), (141279, -0.49), (141295, -0.64),
    (141311, -0.57), (141327, -0.38), (141343, -0.61), (141359, -0.74), (141375, -0.56), (141391, -0.60),
    (141407, -0.45), (141423, -0.66), (141439, -0.58), (141455, -0.77), (141471, -0.53), (141487, -0.61),
    (141503, -0.48), (141519, -0.63), (141535, -0.57), (141551, -0.86), (141567, -0.54), (141583, -0.60),
    (141599, -0.43), (141615, -0.65), (141631, -0.58), (141647, -0.71), (141663, -0.51), (141679, -0.59),
    (141695, -0.66), (141711, -0.46), (141727, -0.61), (141743, -0.75), (141759, -0.55), (141775, -0.62),
    (141791, -0.49), (141807, -0.67), (141823, -0.58), (141839, -0.40), (141855, -0.63), (141871, -0.56),
    (141887, -0.80), (141903, -0.57), (141919, -0.49), (141935, -0.64), (141951, -0.55), (141967, -0.73),
    (141983, -0.52), (141999, -0.60), (142015, -0.45), (142031, -0.61), (142047, -0.56), (142063, -0.79),
    (142079, -0.51), (142095, -0.59), (142111, -0.42), (142127, -0.63), (142143, -0.55), (142159, -0.70),
    (142175, -0.50), (142191, -0.58), (142207, -0.64), (142223, -0.46), (142239, -0.57), (142255, -0.84),
    (142271, -0.53), (142287, -0.60), (142303, -0.41), (142319, -0.62), (142335, -0.55), (142351, -0.72),
    (142367, -0.51), (142383, -0.58), (142399, -0.47), (142415, -0.65), (142431, -0.57), (142447, -0.77),
    (142463, -0.52), (142479, -0.60), (142495, -0.44), (142511, -0.61), (142527, -0.55), (142543, -0.68),
    (142559, -0.50), (142575, -0.58), (142591, -0.39), (142607, -0.62), (142623, -0.56), (142639, -0.74),
    (142655, -0.51), (142671, -0.59), (142687, -0.46), (142703, -0.64), (142719, -0.57), (142735, -0.81),
    (142751, -0.52), (142767, -0.60), (142783, -0.43), (142799, -0.63), (142815, -0.55), (142831, -0.69),
    (142847, -0.50), (142863, -0.58), (142879, -0.47), (142895, -0.65), (142911, -0.56), (142927, -0.78),
    (142943, -0.51), (142959, -0.59), (142975, -0.40), (142991, -0.62), (143007, -0.55), (143023, -0.71),
    (143039, -0.50), (143055, -0.57), (143071, -0.64), (143087, -0.45), (143103, -0.58), (143119, -0.76),
    (143135, -0.52), (143151, -0.60), (143167, -0.44), (143183, -0.63), (143199, -0.55), (143215, -0.68),
    (143231, -0.49), (143247, -0.57), (143263, -0.62), (143279, -0.41), (143295, -0.58), (143311, -0.73),
    (143327, -0.51), (143343, -0.59), (143359, -0.46), (143375, -0.64), (143391, -0.56), (143407, -0.79),
    (143423, -0.52), (143439, -0.60), (143462, -0.48), (143478, -0.58), (143494, -0.44), (143510, -0.62),
    (143657, -0.46), (143664, -0.60), (143680, -0.53), (143696, -0.41), (143712, -0.58), (143728, -0.64),
    (143744, -0.50), (143760, -0.56), (143776, -0.43), (143792, -0.61), (143808, -0.52), (143824, -0.47),
    (143840, -0.63), (143856, -0.55), (143876, -0.50), (143892, -0.58), (143908, -0.44), (143924, -0.55),
    (143940, -0.49), (143956, -0.63), (143972, -0.41), (143988, -0.53), (144004, -0.47), (144020, -0.60),
    (144036, -0.51), (144052, -0.39), (144068, -0.55), (144084, -0.49), (144100, -0.66), (144116, -0.46),
    (144132, -0.52), (144148, -0.58), (144164, -0.40), (144180, -0.54), (144196, -0.48), (144212, -0.61),
    (144228, -0.45), (144244, -0.52), (144260, -0.57), (144276, -0.38), (144292, -0.54), (144308, -0.49),
    (144324, -0.64), (144340, -0.44), (144356, -0.51), (144372, -0.56), (144388, -0.42), (144404, -0.55),
    (144420, -0.48), (144436, -0.60), (144452, -0.43), (144468, -0.52), (144484, -0.47), (144500, -0.58),
    (144516, -0.40), (144532, -0.50), (144548, -0.45), (144564, -0.55), (144580, -0.38), (144596, -0.70),
    (144610, -0.49),
]
del_other = [
    (138490, 0.08), (138617, 0.13), (139146, 0.00), (139261, 0.01), (139350, -0.01), (139429, 0.00),
    (139482, 0.06), (139523, -0.11), (139529, 0.02), (139575, 0.01), (139885, 1.37), (141337, 0.06),
    (141373, 0.24), (141819, -0.01), (141840, 0.15), (141861, -0.13), (141866, 1.00), (141882, -0.04),
    (142070, 1.02), (143925, -0.98),
]
right_top = [
    (144606, 0.78), (144619, 0.66), (144631, 0.84), (144640, 0.73), (144652, 0.90), (144663, 0.70), (144675, 0.81),
    (144684, 0.95), (144697, 0.76), (144708, 0.87), (144719, 0.72), (144731, 0.99), (144742, 0.83), (144754, 0.91),
    (144766, 0.78), (144777, 1.05), (144789, 0.86), (144801, 0.94), (144812, 0.80), (144824, 1.09), (144836, 0.89),
    (144847, 0.97), (144859, 0.84), (144871, 1.01), (144882, 0.92), (144894, 1.12), (144906, 0.87), (144917, 0.99),
    (144929, 1.06), (144941, 0.90), (144952, 1.15), (144964, 0.95), (144976, 1.03), (144987, 0.88), (144999, 1.10),
    (145011, 0.97), (145022, 1.19), (145034, 0.93), (145046, 1.05), (145057, 1.21), (145069, 0.99), (145081, 1.14),
    (145092, 0.91), (145099, 1.53), (145104, 1.08), (145116, 1.22), (145127, 1.01), (145139, 1.17), (145152, 1.32),
    (145162, 1.12), (145174, 1.04), (145186, 1.25), (145197, 0.98), (145209, 1.16), (145221, 1.07), (145232, 1.28),
    (145244, 1.01), (145256, 1.13), (145267, 0.94), (145279, 1.21), (145291, 1.09), (145302, 1.36), (145314, 1.03),
    (145326, 1.17), (145330, 1.32), (145337, 0.99), (145349, 1.11), (145361, 1.24), (145372, 1.05), (145384, 0.92),
    (145396, 1.19), (145407, 1.08), (145419, 1.33), (145424, 1.42), (145431, 1.02), (145442, 1.15), (145454, 1.26),
    (145466, 0.97), (145477, 1.66), (145486, 1.10),
    (144600, 0.72), (144612, 0.85), (144625, 0.69), (144636, 0.92), (144647, 0.78), (144658, 0.84), (144670, 0.95),
    (144681, 0.74), (144692, 0.88), (144703, 1.01), (144714, 0.81), (144726, 0.93), (144737, 0.77), (144748, 1.04),
    (144760, 0.88), (144771, 0.96), (144783, 1.12), (144795, 0.85), (144806, 1.00), (144818, 0.91), (144830, 1.16),
    (144842, 0.95), (144853, 1.05), (144865, 0.87), (144877, 1.11), (144888, 0.98), (144900, 1.20), (144912, 1.03),
    (144923, 0.93), (144935, 1.13), (144947, 1.00), (144958, 1.24), (144970, 1.07), (144982, 0.96), (144993, 1.18),
    (145005, 1.04), (145017, 1.27), (145028, 1.10), (145040, 0.99), (145052, 1.16), (145063, 1.06), (145075, 1.30),
    (145087, 1.09), (145110, 1.19), (145133, 1.03), (145145, 1.26), (145168, 1.10), (145180, 1.21), (145203, 1.02),
    (145215, 1.30), (145238, 1.14), (145250, 1.06), (145273, 1.25), (145285, 1.12), (145308, 1.00), (145320, 1.22),
    (145343, 1.15), (145355, 1.05), (145378, 1.28), (145390, 1.12), (145413, 1.20), (145436, 1.06), (145448, 1.31),
    (145471, 1.18), (145483, 1.04),
]
right_mid = [
    (144612, 0.05), (144625, -0.06), (144641, 0.11), (144655, 0.00), (144668, -0.10), (144684, 0.07),
    (144697, -0.02), (144713, 0.13), (144726, -0.08), (144742, 0.03), (144755, -0.12), (144771, 0.09),
    (144784, -0.04), (144800, 0.01), (144813, 0.10), (144829, -0.07), (144842, 0.04), (144858, -0.01),
    (144871, 0.18), (144887, -0.09), (144900, 0.06), (144916, -0.03), (144929, 0.12), (144945, -0.06),
    (144958, 0.02), (144974, -0.11), (144987, 0.08), (145003, -0.02), (145016, 0.04), (145032, -0.08),
    (145045, 0.10), (145061, -0.03), (145074, 0.01), (145090, 0.07), (145103, -0.14), (145119, 0.05),
    (145132, -0.05), (145148, 0.02), (145161, 0.11), (145177, -0.09), (145190, 0.03), (145206, -0.01),
    (145219, 0.08), (145235, -0.06), (145248, 0.00), (145264, 0.14), (145277, -0.04), (145293, 0.06),
    (145306, -0.10), (145322, 0.03), (145335, 0.09), (145351, -0.02), (145364, 0.05),
    (144619, -0.03), (144633, 0.08), (144648, -0.11), (144662, 0.04), (144676, 0.12), (144690, -0.05),
    (144705, 0.02), (144719, -0.09), (144734, 0.10), (144748, -0.01), (144763, 0.06), (144777, -0.13),
    (144792, 0.03), (144806, 0.09), (144821, -0.04), (144850, 0.00), (144864, 0.11), (144879, -0.07),
    (144893, 0.05), (144908, -0.02), (144937, 0.08), (144951, -0.10), (144966, 0.04), (144995, -0.05),
    (145024, 0.09), (145053, -0.08), (145082, 0.03), (145140, 0.06), (145169, -0.04), (145198, 0.10),
    (145227, -0.03), (145256, 0.05), (145285, -0.08), (145314, 0.01), (145343, 0.07),
]
right_bottom = [
    (144583, -0.55), (144594, -0.45), (144606, -0.76), (144618, -0.70), (144629, -0.88), (144641, -0.64),
    (144653, -0.79), (144664, -0.93), (144676, -0.72), (144688, -0.85), (144699, -0.68), (144711, -0.97),
    (144723, -0.80), (144734, -0.74), (144746, -0.90), (144758, -1.03), (144769, -0.83), (144781, -0.71),
    (144793, -0.95), (144804, -0.87), (144816, -1.10), (144828, -0.79), (144839, -0.92), (144851, -1.27),
    (144863, -0.85), (144874, -0.99), (144886, -0.76), (144898, -1.06), (144909, -0.89), (144921, -0.81),
    (144933, -1.14), (144944, -0.94), (144956, -0.84), (144968, -1.01), (144979, -0.88), (144991, -1.20),
    (145003, -0.91), (145014, -0.79), (145026, -1.08), (145038, -0.96), (145049, -0.86), (145061, -1.33),
    (145073, -0.99), (145084, -0.90), (145096, -1.12), (145108, -0.82), (145119, -1.03), (145131, -0.93),
    (145143, -1.24), (145154, -0.87), (145166, -1.06), (145178, -0.97), (145189, -1.15), (145201, -0.89),
    (145213, -1.01), (145224, -1.38), (145236, -0.94), (145248, -1.09), (145259, -0.85), (145271, -1.18),
    (145283, -0.98), (145288, -1.67), (145294, -1.05), (145306, -0.91), (145318, -1.12), (145329, -1.12),
    (145341, -0.95), (145353, -1.22), (145364, -1.02), (145376, -0.88), (145388, -1.14), (145399, -0.99),
    (145411, -1.07), (145423, -0.93), (145434, -1.19), (145446, -1.03), (145458, -0.96), (145469, -1.11),
    (145481, -0.99),
    (144589, -0.62), (144600, -0.82), (144612, -0.66), (144624, -0.91), (144635, -0.75), (144647, -0.86),
    (144658, -0.70), (144670, -0.99), (144682, -0.81), (144693, -0.92), (144705, -0.77), (144717, -1.05),
    (144728, -0.87), (144740, -0.96), (144752, -0.82), (144763, -1.12), (144775, -0.90), (144787, -1.00),
    (144798, -0.78), (144810, -1.15), (144822, -0.93), (144833, -1.04), (144845, -0.86), (144857, -1.20),
    (144868, -0.97), (144880, -1.08), (144892, -0.89), (144903, -1.18), (144915, -1.00), (144927, -0.91),
    (144938, -1.23), (144950, -1.04), (144962, -0.95), (144973, -1.29), (144985, -1.06), (144997, -0.98),
    (145008, -1.16), (145020, -0.90), (145032, -1.11), (145043, -1.02), (145055, -1.24), (145067, -0.94),
    (145078, -1.07), (145090, -1.45), (145102, -0.99), (145113, -1.13), (145125, -1.04), (145137, -1.30),
    (145148, -0.96), (145160, -1.10), (145172, -1.01), (145183, -1.21), (145195, -0.92), (145207, -1.08),
    (145218, -1.14), (145230, -0.98), (145242, -1.27), (145253, -1.05), (145265, -0.93), (145277, -1.12),
    (145300, -1.00), (145312, -1.26), (145335, -1.08), (145347, -0.97), (145358, -1.15), (145370, -1.33),
    (145382, -1.01), (145405, -1.20), (145417, -0.94), (145428, -1.10), (145440, -1.25), (145463, -1.06),
    (145475, -0.98), (145487, -1.17),
]

gene_names = ["HNMT", "NXPH2", "LRP1B", "KYNU", "ARHGAP15"]
gene_start_kb = [137721, 139412, 140973, 143603, 143882]
gene_end_kb = [138479, 139566, 142920, 143820, 144550]
gene_label_kb = [138093, 139499, 141900, 143673, 144269]

band_names = ["q22.1", "q22.2", "q22.3"]
band_start_kb = [136100, 142199, 144097]
band_end_kb = [142199, 144097, 147900]
band_stain = ["dark", "light", "dark"]

# ---------------------------------------------------------------- style
sns.set_theme(style="white")
plt.rcParams["font.family"] = ["Lato", "DejaVu Sans"]

W, H = 3298, 1916
MAG = "#b8529c"
PX = 0.72  # points per pixel at dpi 100

fig = plt.figure(figsize=(W / 100, H / 100), dpi=100)
renderer = fig.canvas.get_renderer()


def rect(x0, y0, x1, y1):
    return [x0 / W, 1 - y1 / H, (x1 - x0) / W, (y1 - y0) / H]


def fit_text(ax, x, y, s, width_px, **kw):
    t = ax.text(x, y, s, fontsize=20, **kw)
    w = t.get_window_extent(renderer=renderer).width
    t.set_fontsize(20 * width_px / w)
    return t


def bare(ax):
    ax.set_xlim(view_kb)
    for sp in ax.spines.values():
        sp.set_visible(False)
    ax.set_xticks([])
    ax.set_xlabel("")
    ax.set_ylabel("")
    ax.patch.set_alpha(0)


# ---------------------------------------------------------------- allele difference
ax_al = fig.add_axes(rect(41, 176, W, 800))
allele = pd.concat(
    [pd.DataFrame(b, columns=["pos_kb", "allele_diff"]) for b in
     (left_top, left_mid, left_bottom, del_top, del_bottom, del_other, right_top, right_mid, right_bottom)],
    ignore_index=True)
sns.scatterplot(data=allele, x="pos_kb", y="allele_diff", ax=ax_al, marker="s", s=22,
                color=MAG, edgecolor="#dfb0d2", linewidth=0.6, legend=False, clip_on=False)
bare(ax_al)
ax_al.set_ylim(-1.594, 1.896)
ax_al.set_yticks([])

# ---------------------------------------------------------------- relative copy number
ax_cn = fig.add_axes(rect(41, 800, W, 1453))
cn = pd.DataFrame(cn_profile, columns=["pos_kb", "cn"])
for t in cn_ticks[1:]:
    ax_cn.axhline(t, color="#7f7f7f", lw=4 * PX, ls=(0, (1, 5.25)), dash_capstyle="butt", zorder=1)
fill = ax_cn.fill_between(cn["pos_kb"], 0, cn["cn"], color=MAG, lw=0, zorder=1.6)
sns.lineplot(data=cn, x="pos_kb", y="cn", ax=ax_cn, color=MAG, lw=1.2, zorder=1.7)
clip = fill.get_paths()[0]
faint = ax_cn.vlines(gap_faint_kb, 0, 3.3, colors="white", alpha=0.2, lw=2 * PX, zorder=1.8)
faint.set_clip_path(clip, ax_cn.transData)
bright = ax_cn.vlines(gap_bright_kb, 0, 3.3, colors="white", alpha=0.85, lw=3 * PX, zorder=1.8)
bright.set_clip_path(clip, ax_cn.transData)
bare(ax_cn)
ax_cn.set_axisbelow(False)
ax_cn.set_ylim(0, 3.419)
ax_cn.set_yticks(cn_ticks, labels=cn_tick_labels)
ax_cn.tick_params(axis="y", left=True, direction="in", length=16 * PX, width=3.5 * PX,
                  color="#20203a", pad=-24 * PX, labelsize=21, labelcolor="#3a3a3a")
for lbl in ax_cn.get_yticklabels():
    lbl.set_horizontalalignment("left")
    lbl.set_family("DejaVu Sans")

# ---------------------------------------------------------------- dosage, genes, cytobands
ax_tr = fig.add_axes(rect(41, 1453, W, H))
bare(ax_tr)
ax_tr.set_ylim(H, 1453)
ax_tr.set_yticks([])
kb_per_px = (view_kb[1] - view_kb[0]) / (W - 41)

ax_tr.hlines(1569.5, *view_kb, color="#f8dcea", lw=3 * PX)
ax_tr.hlines(1573, *view_kb, color="#bb56a1", lw=4 * PX)
loss_w = loss_end_kb - loss_start_kb
ax_tr.add_patch(Rectangle((loss_start_kb, 1548), loss_w + 4 * kb_per_px, 56, color="#a29a9a", lw=0))
ax_tr.add_patch(Rectangle((loss_start_kb, 1543), loss_w, 56, color="#7b1416", lw=0))
ax_tr.add_patch(Rectangle((loss_start_kb, 1543), loss_w, 4, color="#8c1c1f", lw=0))
ax_tr.scatter([(loss_start_kb + loss_end_kb) / 2], [1568], marker="v", s=110,
              facecolors="none", edgecolors="#a4474e", linewidths=1.6, zorder=5)

for i, (name, s, e, lx) in enumerate(zip(gene_names, gene_start_kb, gene_end_kb, gene_label_kb)):
    if i == 0:
        for off, a in ((9, 0.05), (6, 0.08), (3, 0.10)):
            ax_tr.add_patch(Rectangle((s + off * kb_per_px * 0.5, 1701 + off), e - s, 104,
                                      color="black", alpha=a, lw=0))
        ax_tr.add_patch(Rectangle((s, 1700), e - s, 104, facecolor="#1570b8",
                                  edgecolor="#4a88c8", lw=2 * PX))
    else:
        ax_tr.add_patch(Rectangle((s, 1701), e - s, 108, color="#1570b8", lw=0))

gene_texts = [ax_tr.text(lx, 1690, name, ha="center", va="baseline", color="#1c1c1c",
                         fontsize=20, family="Lato")
              for name, lx in zip(gene_names, gene_label_kb)]
w_long = gene_texts[-1].get_window_extent(renderer=renderer).width
for t in gene_texts:
    t.set_fontsize(20 * 261 / w_long)

# cytoband strip
ax_tr.add_patch(Rectangle((view_kb[0], 1873), view_kb[1] - view_kb[0], 3.5, color="#9c9c9c", lw=0))
light_stripes = [(1873, 1876.5, "#b8b8b8"), (1876.5, 1881, "#7c7c7c"), (1881, 1886, "#a6a6a6"),
                 (1886, 1903, "#cdcdcd"), (1903, 1908, "#b3b3b3"), (1908, 1912, "#8e8e8e"),
                 (1912, 1916, "#a8a8a8")]
for name, s, e, stain in zip(band_names, band_start_kb, band_end_kb, band_stain):
    s0, e0 = max(s, view_kb[0]), min(e, view_kb[1])
    if stain == "dark":
        ax_tr.add_patch(Rectangle((s0, 1876.5), e0 - s0, H - 1876.5, color="#0b0b0b", lw=0))
        tc = "#5e5e5e"
    else:
        for y0, y1, c in light_stripes:
            ax_tr.add_patch(Rectangle((s0, y0), e0 - s0, y1 - y0, color=c, lw=0))
        tc = "#2a2a2a"
    ax_tr.text((s0 + e0) / 2, 1903, name, ha="center", va="center", fontsize=15,
               color=tc, family="Liberation Sans", fontweight="bold")

# ---------------------------------------------------------------- kb ruler
ax_ru = fig.add_axes(rect(41, 1855.5, W, 1860.5))
ax_ru.patch.set_alpha(0)
ax_ru.set_xlim(view_kb)
ax_ru.set_ylim(0, 1)
ax_ru.set_yticks([])
ax_ru.spines["left"].set_visible(False)
ax_ru.spines["right"].set_visible(False)
ax_ru.spines["bottom"].set(color="black", lw=5 * PX)
ax_ru.spines["top"].set(color="#7d7d7d", lw=3 * PX)
ax_ru.xaxis.set_major_locator(MultipleLocator(1000))
ax_ru.xaxis.set_minor_locator(MultipleLocator(100))
ax_ru.xaxis.set_major_formatter(FuncFormatter(lambda v, p: f"{int(round(v))}kb"))
ax_ru.tick_params(axis="x", which="major", direction="inout", length=16 * PX, width=3 * PX,
                  color="black", bottom=True, top=False, labelbottom=False, labeltop=True,
                  pad=-3, labelsize=20.5, labelcolor="#0a0a0a")
ax_ru.tick_params(axis="x", which="minor", direction="inout", length=5 * PX, width=3 * PX,
                  color="#3a3a3a", bottom=False, top=True)
for lbl in ax_ru.get_xticklabels():
    lbl.set_horizontalalignment("left")
    lbl.set_family("Liberation Sans")
    lbl.set_fontweight("bold")

# ---------------------------------------------------------------- frame and captions
ax_px = fig.add_axes([0, 0, 1, 1], zorder=10)
ax_px.set_xlim(0, W)
ax_px.set_ylim(H, 0)
ax_px.axis("off")
ax_px.patch.set_alpha(0)
ax_px.hlines(174, 36, W, color="#b8bce4", lw=9 * PX)
ax_px.hlines(174, 36, W, color="#5a63b1", lw=3.5 * PX)
ax_px.vlines(41, 171, 1877, color="#6670b8", lw=5.5 * PX)
ax_px.add_patch(Rectangle((38, 1903), 22, 13, color="#3d5fc6", lw=0))

fit_text(ax_px, 1704, 92, title, 1884, ha="center", va="center", color="#1c1c1c", family="Lato")
fit_text(ax_px, 293, 237, "Allele Difference", 330, ha="left", va="baseline", color="#1c1c1c", family="Lato")
fit_text(ax_px, 293, 831, "Relative copy number", 437, ha="left", va="baseline", color="#1c1c1c", family="Lato")
fit_text(ax_px, 62, 1522, "Relative dosage", 312, ha="left", va="baseline", color="#1c1c1c", family="Lato")
fit_text(ax_px, 52, 1628, "Genes", 80, ha="left", va="center", color="#f07ab0", alpha=0.8,
         family="DejaVu Sans", fontweight="bold")

fig.savefig("out.png", dpi=100)
